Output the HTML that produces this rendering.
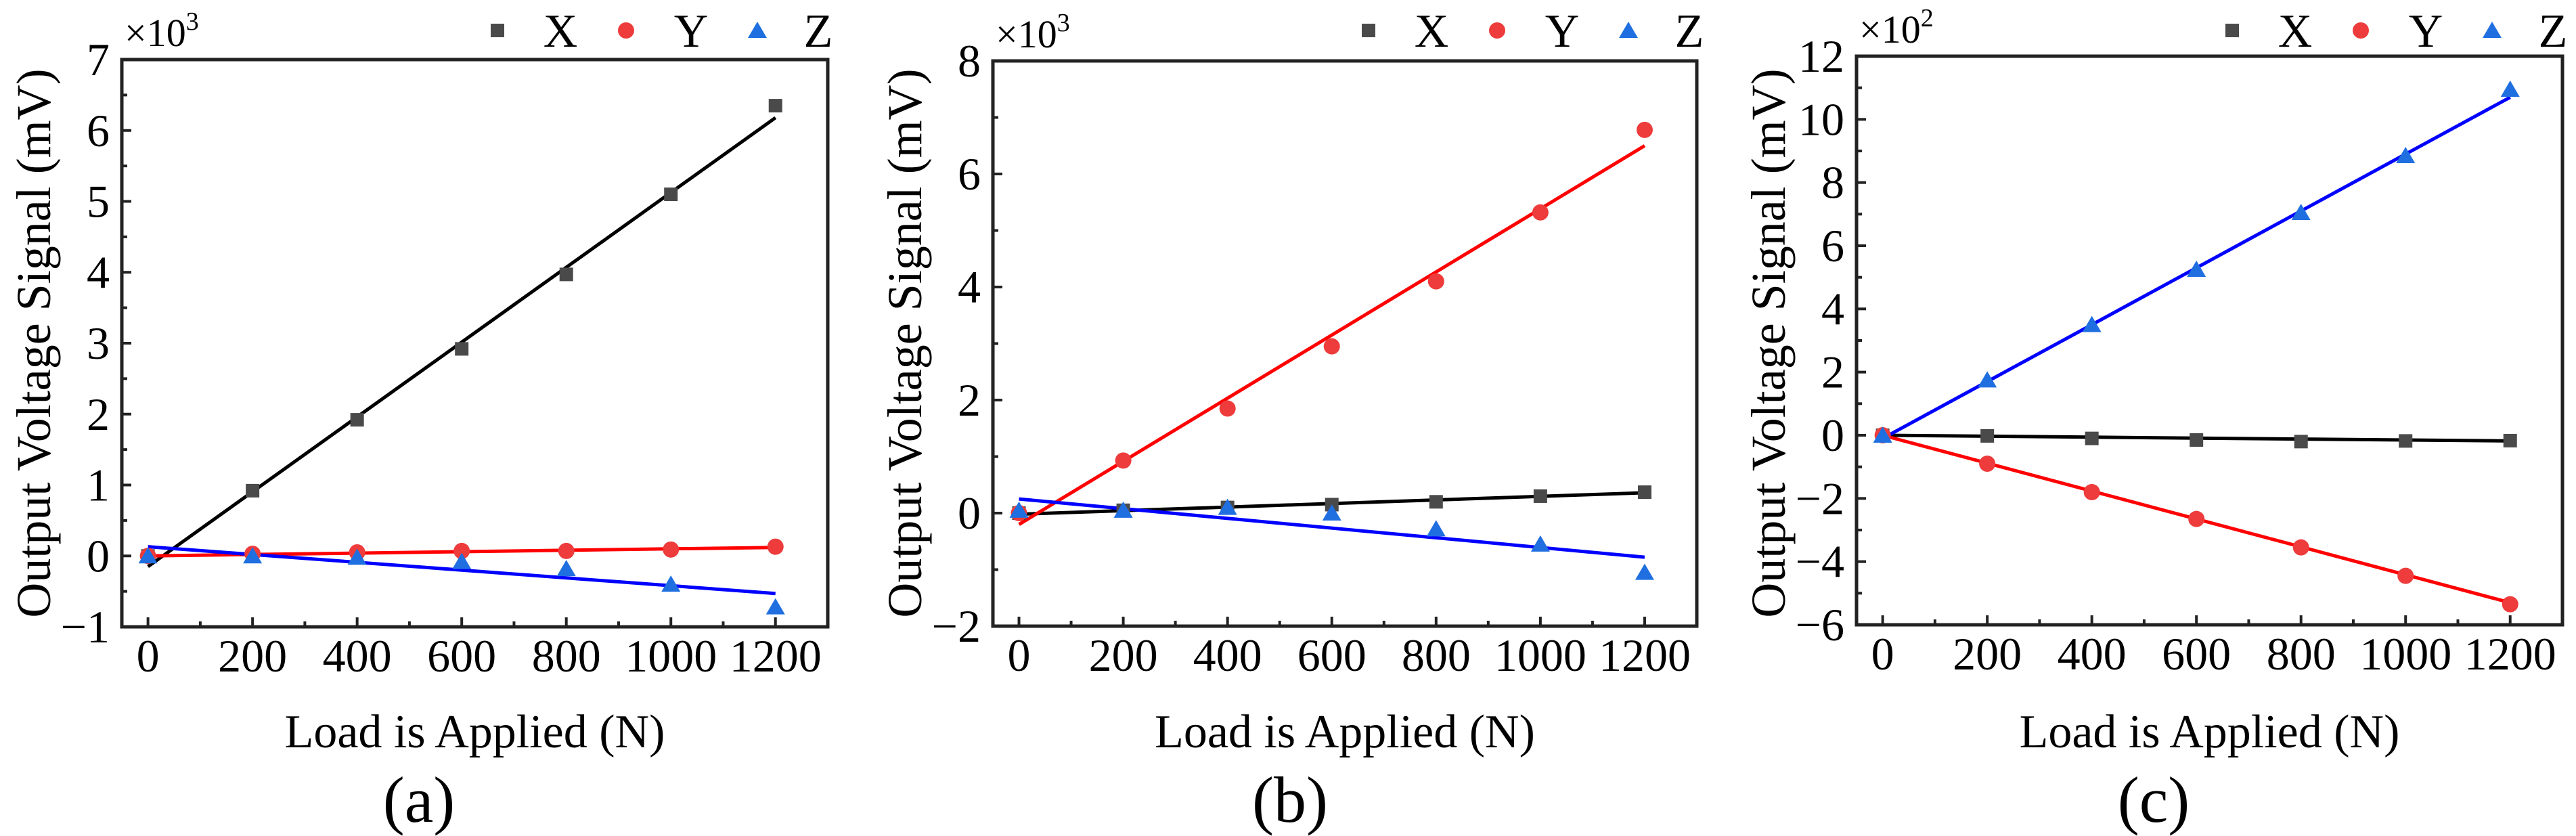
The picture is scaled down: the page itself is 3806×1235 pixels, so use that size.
<!DOCTYPE html>
<html><head><meta charset="utf-8"><style>
html,body{margin:0;padding:0;background:#fff;}
svg{display:block;}
svg text{font-family:"Liberation Serif","Times New Roman",serif;}
</style></head><body>
<svg id="fig" width="3806" height="1235" viewBox="0 0 3806 1235" xmlns="http://www.w3.org/2000/svg" font-family="Liberation Serif, serif"></svg>
<script>
const loads = [0, 200, 400, 600, 800, 1000, 1200];
const xTicks = [0, 200, 400, 600, 800, 1000, 1200];
// Panel (a), ×10^3
const aX = [0, 0.92, 1.92, 2.92, 3.97, 5.1, 6.35];
const aY = [0, 0.03, 0.05, 0.07, 0.07, 0.09, 0.13];
const aZ = [0, 0, -0.02, -0.08, -0.18, -0.40, -0.72];
const aFitX = [-0.15, 6.18];
const aFitY = [0.0, 0.12];
const aFitZ = [0.13, -0.53];
const aYTicks = [-1, 0, 1, 2, 3, 4, 5, 6, 7];
// Panel (b), ×10^3
const bX = [0, 0.05, 0.1, 0.15, 0.2, 0.3, 0.37];
const bY = [0, 0.93, 1.85, 2.95, 4.1, 5.32, 6.78];
const bZ = [0.05, 0.05, 0.1, 0.0, -0.28, -0.55, -1.05];
const bFitX = [-0.02, 0.36];
const bFitY = [-0.2, 6.5];
const bFitZ = [0.25, -0.78];
const bYTicks = [-2, 0, 2, 4, 6, 8];
// Panel (c), ×10^2
const cX = [0, -0.02, -0.1, -0.15, -0.2, -0.18, -0.17];
const cY = [0, -0.9, -1.8, -2.65, -3.55, -4.45, -5.35];
const cZ = [0, 1.75, 3.5, 5.25, 7.05, 8.85, 10.95];
const cFitX = [0, -0.18];
const cFitY = [0, -5.3];
const cFitZ = [-0.1, 10.7];
const cYTicks = [-6, -4, -2, 0, 2, 4, 6, 8, 10, 12];

const NS = "http://www.w3.org/2000/svg";
const fig = document.getElementById('fig');
const FF = '"Liberation Serif", serif';
function mk(tag, attrs, parent){const e=document.createElementNS(NS,tag);for(const k in attrs)e.setAttribute(k,attrs[k]);if(tag==='text')e.style.fontFamily=FF;(parent||fig).appendChild(e);return e;}

const panels = [
 {id:'a', L:180, R:1223, T:88, B:926, ymin:-1, ymax:7, yt:aYTicks, minorStep:0.5, exp:'3', X:aX, Y:aY, Z:aZ, fx:aFitX, fy:aFitY, fz:aFitZ},
 {id:'b', L:1467, R:2507, T:90, B:925, ymin:-2, ymax:8, yt:bYTicks, minorStep:1, exp:'3', X:bX, Y:bY, Z:bZ, fx:bFitX, fy:bFitY, fz:bFitZ},
 {id:'c', L:2743, R:3786, T:83, B:923, ymin:-6, ymax:12, yt:cYTicks, minorStep:1, exp:'2', X:cX, Y:cY, Z:cZ, fx:cFitX, fy:cFitY, fz:cFitZ}
];
const colX='#4a4a4a', colY='#ee3b3b', colZ='#1f6fe0';
const lineX='#000', lineY='#ff0000', lineZ='#0000ff';

panels.forEach(p=>{
  const g = mk('g',{});
  
  
  const sx = v => p.L + (v+50)/1350*(p.R-p.L);
  const sy = v => p.B - (v-p.ymin)/(p.ymax-p.ymin)*(p.B-p.T);
  const fr = mk('rect',{x:p.L,y:p.T,width:p.R-p.L,height:p.B-p.T,fill:'none',stroke:'#222','stroke-width':5},g);
  
  
  xTicks.forEach(t=>{
    const x=sx(t);
    mk('line',{x1:x,y1:p.B,x2:x,y2:p.B-14,stroke:'#222','stroke-width':4},g);
    const tl=mk('text',{x:x,y:p.B+66,'font-size':68,'text-anchor':'middle',fill:'#000'},g);
    tl.textContent=t;
    
    
  });
  for(let t=100;t<1300;t+=200){const x=sx(t);mk('line',{x1:x,y1:p.B,x2:x,y2:p.B-8,stroke:'#222','stroke-width':4},g);}
  p.yt.forEach(t=>{
    const y=sy(t);
    mk('line',{x1:p.L,y1:y,x2:p.L+14,y2:y,stroke:'#222','stroke-width':4},g);
    const tl=mk('text',{x:p.L-18,y:y+23,'font-size':68,'text-anchor':'end',fill:'#000'},g);
    tl.textContent=(t<0?'\u2212'+(-t):t);
    
    
  });
  for(let t=p.ymin+p.minorStep;t<p.ymax;t+=2*p.minorStep){const y=sy(t);mk('line',{x1:p.L,y1:y,x2:p.L+8,y2:y,stroke:'#222','stroke-width':4},g);}
  const ex=mk('text',{x:p.L+4,y:p.T-20,'font-size':58,fill:'#000'},g);
  ex.innerHTML='\u00d710<tspan dy="-24" font-size="38">'+p.exp+'</tspan>';
  
  
  const yt=mk('text',{x:0,y:0,'font-size':72,'text-anchor':'middle',fill:'#000',transform:`translate(${p.L-106},507) rotate(-90)`},g);
  yt.textContent='Output Voltage Signal (mV)';
  
  
  const xt=mk('text',{x:(p.L+p.R)/2,y:1104,'font-size':70,'text-anchor':'middle',fill:'#000'},g);
  xt.textContent='Load is Applied (N)';
  
  
  const pl=mk('text',{x:p.L+439,y:1214,'font-size':96,'text-anchor':'middle',fill:'#000'},g);
  pl.textContent='('+p.id+')';
  
  
  [[p.fx,lineX,'x'],[p.fy,lineY,'y'],[p.fz,lineZ,'z']].forEach(([f,c,n])=>{
    const l=mk('line',{x1:sx(0),y1:sy(f[0]),x2:sx(1200),y2:sy(f[1]),stroke:c,'stroke-width':5},g);
    
    
  });
  function sq(cx,cy,parent){return mk('rect',{x:cx-10,y:cy-10,width:20,height:20,fill:colX},parent);}
  function ci(cx,cy,parent){return mk('circle',{cx:cx,cy:cy,r:12,fill:colY},parent);}
  function tr(cx,cy,parent){return mk('polygon',{points:`${cx},${cy-13} ${cx+14},${cy+11} ${cx-14},${cy+11}`,fill:colZ},parent);}
  loads.forEach((ld,i)=>{
    const m1=sq(sx(ld),sy(p.X[i]),g);
    
    
    const m2=ci(sx(ld),sy(p.Y[i]),g);
    
    
    const m3=tr(sx(ld),sy(p.Z[i]),g);
    
    
  });
  const lg=mk('g',{},g);
  
  
  const ly=45;
  sq(p.L+555,ly,lg); ci(p.L+745,ly,lg); tr(p.L+939,ly,lg);
  [['X',p.L+648],['Y',p.L+841],['Z',p.L+1029]].forEach(([s,x])=>{
    const t=mk('text',{x:x,y:ly+24,'font-size':70,'text-anchor':'middle',fill:'#000'},lg);
    t.textContent=s;
    
    
  });
});
</script>
</body></html>
